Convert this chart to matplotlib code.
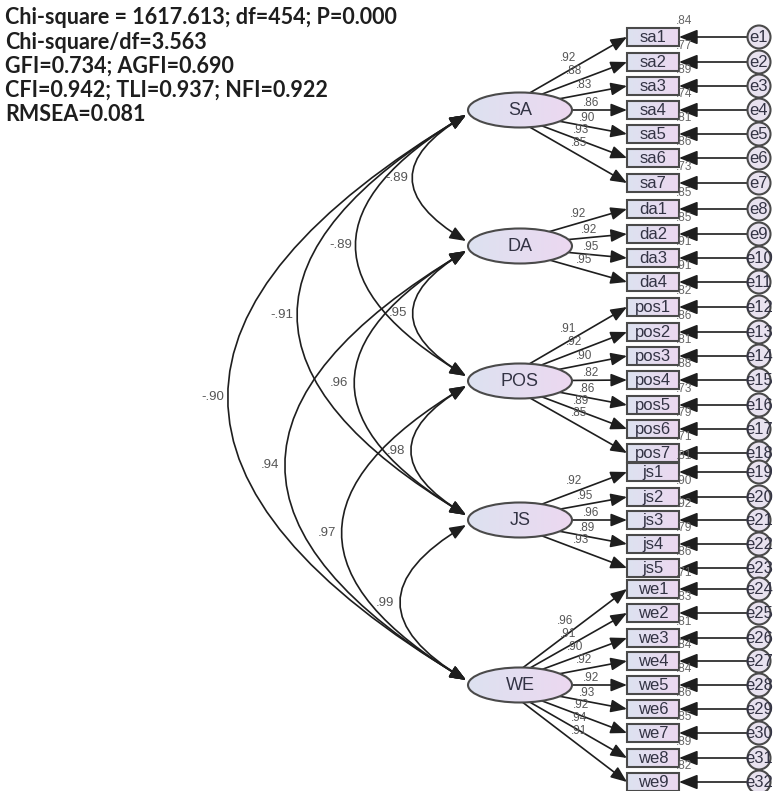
import numpy as np
import matplotlib.pyplot as plt
from matplotlib.patches import Ellipse, Rectangle, Circle, FancyArrowPatch
from matplotlib.colors import LinearSegmentedColormap

# Model fit text
fit_lines = [
    "Chi-square = 1617.613; df=454; P=0.000",
    "Chi-square/df=3.563",
    "GFI=0.734; AGFI=0.690",
    "CFI=0.942; TLI=0.937; NFI=0.922",
    "RMSEA=0.081",
]

# Latent factors and their indicators
latents = ["SA", "DA", "POS", "JS", "WE"]
items_sa = ["sa1", "sa2", "sa3", "sa4", "sa5", "sa6", "sa7"]
items_da = ["da1", "da2", "da3", "da4"]
items_pos = ["pos1", "pos2", "pos3", "pos4", "pos5", "pos6", "pos7"]
items_js = ["js1", "js2", "js3", "js4", "js5"]
items_we = ["we1", "we2", "we3", "we4", "we5", "we6", "we7", "we8", "we9"]

# Standardised loadings
load_sa = [.92, .88, .83, .86, .90, .93, .85]
load_da = [.92, .92, .95, .95]
load_pos = [.91, .92, .90, .82, .86, .89, .85]
load_js = [.92, .95, .96, .89, .93]
load_we = [.96, .91, .90, .92, .92, .93, .92, .94, .91]

# Squared multiple correlations
r2_sa = [.84, .77, .89, .74, .81, .86, .73]
r2_da = [.85, .85, .91, .91]
r2_pos = [.82, .86, .81, .88, .73, .79, .71]
r2_js = [.81, .90, .92, .79, .86]
r2_we = [.71, .83, .81, .84, .84, .86, .85, .89, .82]

# Factor correlations (from, to, value)
corr_pairs = [("SA", "DA", -.89), ("SA", "POS", -.89), ("SA", "JS", -.91), ("SA", "WE", -.90),
              ("DA", "POS", .95), ("DA", "JS", .96), ("DA", "WE", .94),
              ("POS", "JS", .98), ("POS", "WE", .97), ("JS", "WE", .99)]

items = [items_sa, items_da, items_pos, items_js, items_we]
loads = [load_sa, load_da, load_pos, load_js, load_we]
r2s = [r2_sa, r2_da, r2_pos, r2_js, r2_we]

# layout (pixels)
lat_x = 520
lat_y = {"SA": 110, "DA": 246, "POS": 381, "JS": 520, "WE": 685}
ell_w, ell_h = 104, 35
box_x0, box_w, box_h = 627, 52, 18
box_y = [37, 62, 86, 110, 134, 158, 183,
         209, 234, 258, 282,
         307, 332, 356, 380, 405, 429, 453,
         472, 497, 520, 544, 568,
         589, 613, 638, 661, 685, 709, 733, 758, 782]
err_x, err_r = 759, 11.5

dark = "#1e1e1e"
edge = "#4a4a4a"
lab = "#555555"
grad = LinearSegmentedColormap.from_list("g", ["#dde2f0", "#ecd8f0"])
gimg = np.linspace(0, 1, 64).reshape(1, -1)

fig = plt.figure(figsize=(7.81, 7.91), dpi=100)
ax = fig.add_axes([0, 0, 1, 1])
ax.set_xlim(0, 781)
ax.set_ylim(791, 0)
ax.axis("off")

for i, line in enumerate(fit_lines):
    ax.text(5, 18 + i * 24.2, line, fontsize=15.5, fontweight="bold", family="Lato",
            color="#1e1e1e", va="center", ha="left")


def arrow(p0, p1, lw=1.2, ms=13):
    ax.annotate("", xy=p1, xytext=p0,
                arrowprops=dict(arrowstyle="-|>,head_length=0.75,head_width=0.3", lw=lw, color=dark,
                                shrinkA=0, shrinkB=0, mutation_scale=ms))


def ell_start(cy, tx, ty):
    # where the ray from a point left of the centre meets the ellipse
    ox, oy = lat_x - 20, cy
    dx, dy = tx - ox, ty - oy
    a, b = ell_w / 2, ell_h / 2
    px = ox - lat_x
    A = (dx / a) ** 2 + (dy / b) ** 2
    B = 2 * px * dx / a ** 2
    C = (px / a) ** 2 - 1
    t = (-B + np.sqrt(B * B - 4 * A * C)) / (2 * A)
    return ox + t * dx, oy + t * dy


# correlation arcs
rad = 0.84
for a_name, b_name, val in corr_pairs:
    y0 = lat_y[a_name] + 5
    y1 = lat_y[b_name] - 5
    x0 = lat_x - ell_w / 2 - 2
    arc = FancyArrowPatch((x0, y0), (x0, y1), connectionstyle=f"arc3,rad={rad}",
                          arrowstyle="<|-|>,head_length=0.75,head_width=0.3", mutation_scale=13,
                          lw=1.2, color=dark, shrinkA=0, shrinkB=0, zorder=2)
    ax.add_patch(arc)
    chord = y1 - y0
    ax.text(x0 - rad / 2 * chord - 16, (y0 + y1) / 2, f"{val:.2f}".replace("0.", "."),
            fontsize=9.5, color=lab, family="Liberation Sans", ha="center", va="center")

k = 0
for li, name in enumerate(latents):
    cy = lat_y[name]
    for item, ld, r2 in zip(items[li], loads[li], r2s[li]):
        yb = box_y[k]
        k += 1
        sx, sy = ell_start(cy, box_x0, yb)
        arrow((sx, sy), (box_x0, yb))
        # loading label
        dx, dy = box_x0 - sx, yb - sy
        L = np.hypot(dx, dy)
        ux, uy = dx / L, dy / L
        nx_, ny_ = uy, -ux
        if ny_ > 0:
            nx_, ny_ = -nx_, -ny_
        frac = 0.35 + 0.2 * abs(uy)
        perp = 7 + 8 * abs(uy)
        lx = sx + frac * L * ux + perp * nx_
        ly = sy + frac * L * uy + perp * ny_
        ax.text(lx, ly, f"{ld:.2f}".replace("0.", "."), fontsize=8.5, color=lab,
                family="Liberation Sans", ha="center", va="center", zorder=5)
        # indicator box
        rect = Rectangle((box_x0, yb - box_h / 2), box_w, box_h, facecolor="none",
                         edgecolor=edge, lw=1.5, zorder=4)
        ax.add_patch(rect)
        im = ax.imshow(gimg, cmap=grad, extent=(box_x0, box_x0 + box_w, yb + box_h / 2, yb - box_h / 2),
                       aspect="auto", zorder=3)
        im.set_clip_path(rect)
        ax.text(box_x0 + box_w / 2, yb + 0.5, item, fontsize=12, color="#333344",
                family="Liberation Sans", ha="center", va="center", zorder=5)
        ax.text(box_x0 + box_w - 3, yb - box_h / 2 - 7, f"{r2:.2f}".replace("0.", "."), fontsize=8.5,
                color="#666666", family="Liberation Sans", ha="left", va="center", zorder=5)
        # error term
        circ = Circle((err_x, yb), err_r, facecolor="#e8e2ef", edgecolor=edge, lw=1.5, zorder=4)
        ax.add_patch(circ)
        t = ax.text(err_x, yb + 0.5, f"e{k}", fontsize=12, color="#333344",
                    family="Liberation Sans", ha="center", va="center", zorder=5)
        t.set_clip_path(circ)
        arrow((err_x - err_r, yb), (box_x0 + box_w, yb), lw=1.2, ms=15)

    # latent ellipse
    ell = Ellipse((lat_x, cy), ell_w, ell_h, facecolor="none", edgecolor=edge, lw=1.5, zorder=4)
    ax.add_patch(ell)
    im = ax.imshow(gimg, cmap=grad, extent=(lat_x - ell_w / 2, lat_x + ell_w / 2, cy + ell_h / 2, cy - ell_h / 2),
                   aspect="auto", zorder=3)
    im.set_clip_path(ell)
    ax.text(lat_x, cy + 0.5, name, fontsize=13, color="#333344", family="Liberation Sans",
            ha="center", va="center", zorder=5)

ax.set_xlim(0, 781)
ax.set_ylim(791, 0)
fig.savefig("out.png", dpi=100)
